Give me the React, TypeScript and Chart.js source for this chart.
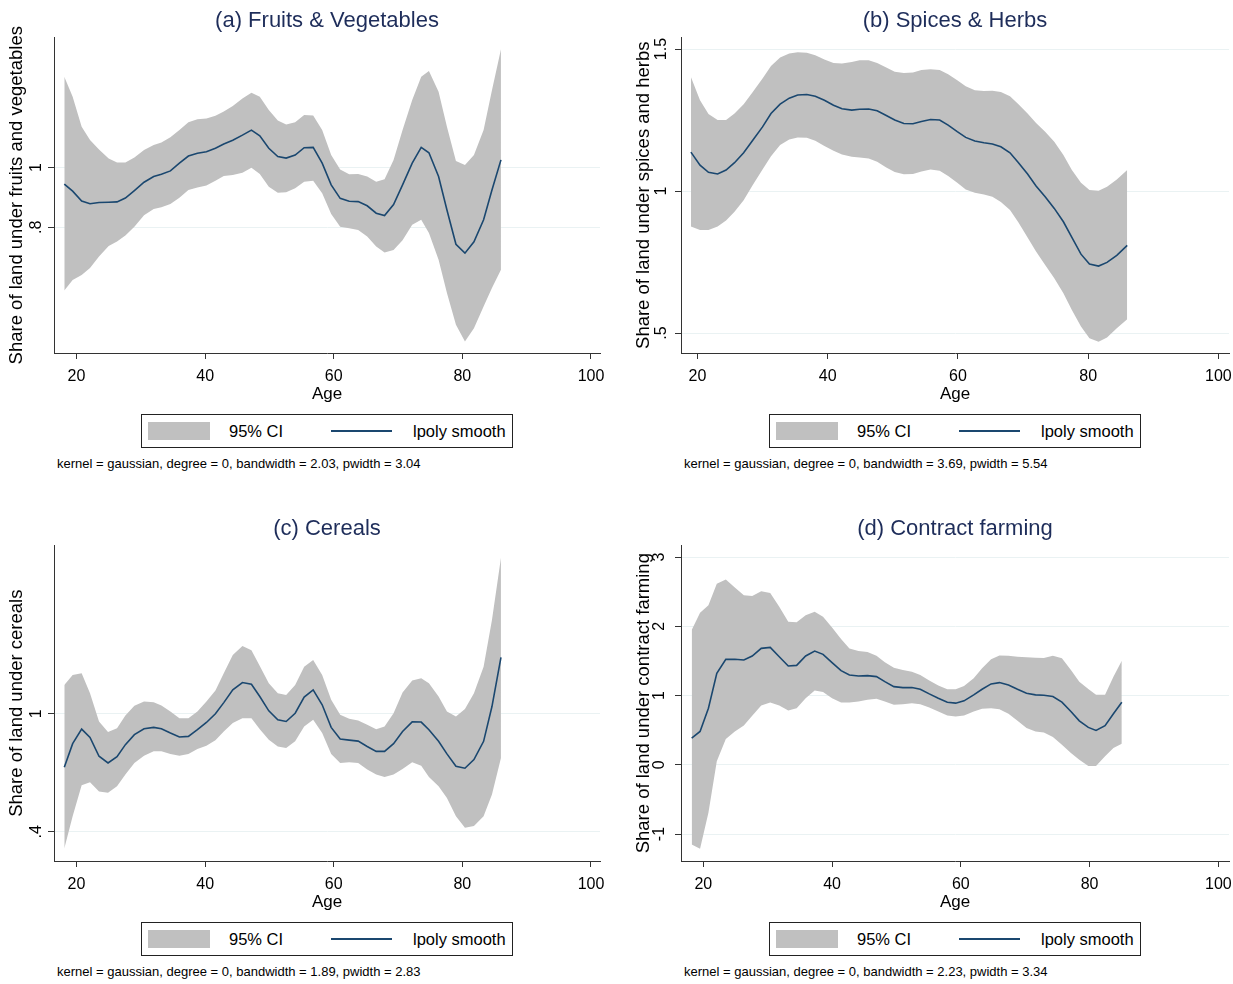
import React, { useEffect, useRef } from 'react';
import { Chart, registerables } from 'chart.js';

Chart.register(...registerables);

const FONT = '"Liberation Sans", Arial, Helvetica, sans-serif';
const NAVY = '#1a476f';
const CI_GRAY = '#c0c0c0';
const AXIS = '#333333';
const GRID = '#eaf2f3';
const TITLE_COLOR = '#1e2d5a';

// ---------------- Data ----------------
const xTicks = [20, 40, 60, 80, 100];

// (a) Fruits & Vegetables
const agesA = [18.1, 19.4, 20.8, 22.1, 23.5, 25.0, 26.3, 27.6, 29.0, 30.5, 32.0, 33.2, 34.6, 36.0, 37.4, 38.8, 40.2, 41.6, 42.9, 44.3, 45.8, 47.2, 48.5, 49.9, 51.3, 52.6, 54.0, 55.4, 56.8, 58.2, 59.6, 61.0, 62.4, 63.8, 65.2, 66.6, 67.9, 69.3, 70.7, 72.2, 73.6, 74.8, 76.3, 77.6, 79.0, 80.4, 81.8, 83.3, 84.6, 86.0];
const smoothA = [0.945, 0.921, 0.888, 0.879, 0.883, 0.884, 0.885, 0.898, 0.923, 0.951, 0.970, 0.978, 0.989, 1.015, 1.039, 1.048, 1.053, 1.065, 1.079, 1.092, 1.109, 1.126, 1.107, 1.065, 1.037, 1.032, 1.042, 1.067, 1.068, 1.015, 0.942, 0.897, 0.887, 0.886, 0.872, 0.847, 0.839, 0.876, 0.942, 1.015, 1.068, 1.050, 0.970, 0.858, 0.743, 0.713, 0.751, 0.825, 0.925, 1.026];
const upperA = [1.305, 1.238, 1.137, 1.093, 1.061, 1.031, 1.017, 1.017, 1.034, 1.059, 1.076, 1.084, 1.102, 1.126, 1.152, 1.162, 1.165, 1.174, 1.188, 1.207, 1.232, 1.251, 1.238, 1.193, 1.158, 1.145, 1.152, 1.177, 1.175, 1.126, 1.042, 0.994, 0.978, 0.979, 0.970, 0.953, 0.961, 1.026, 1.126, 1.227, 1.305, 1.324, 1.255, 1.137, 1.022, 1.009, 1.042, 1.126, 1.260, 1.397];
const lowerA = [0.588, 0.623, 0.640, 0.663, 0.702, 0.737, 0.752, 0.772, 0.802, 0.840, 0.861, 0.867, 0.878, 0.899, 0.925, 0.933, 0.940, 0.956, 0.972, 0.975, 0.983, 1.000, 0.979, 0.936, 0.916, 0.917, 0.931, 0.953, 0.956, 0.914, 0.844, 0.802, 0.797, 0.791, 0.769, 0.735, 0.715, 0.724, 0.756, 0.808, 0.825, 0.781, 0.691, 0.579, 0.473, 0.417, 0.461, 0.534, 0.596, 0.657];
const yTicksA = [0.8, 1];

// (b) Spices & Herbs
const agesB = [19.0, 20.4, 21.7, 23.1, 24.4, 25.7, 27.1, 28.5, 30.0, 31.3, 32.7, 34.1, 35.4, 36.8, 38.1, 39.5, 40.9, 42.2, 43.7, 44.9, 46.3, 47.6, 49.0, 50.3, 51.7, 53.1, 54.4, 55.8, 57.2, 58.5, 59.9, 61.2, 62.6, 64.0, 65.3, 66.6, 68.0, 69.3, 70.7, 72.0, 73.4, 74.8, 76.2, 77.5, 78.9, 80.2, 81.6, 82.9, 84.4, 86.0];
const smoothB = [1.137, 1.091, 1.066, 1.060, 1.074, 1.100, 1.135, 1.179, 1.226, 1.273, 1.306, 1.327, 1.338, 1.340, 1.334, 1.320, 1.302, 1.290, 1.285, 1.288, 1.289, 1.283, 1.266, 1.250, 1.238, 1.237, 1.245, 1.252, 1.250, 1.232, 1.209, 1.189, 1.176, 1.170, 1.166, 1.156, 1.135, 1.100, 1.060, 1.018, 0.980, 0.939, 0.892, 0.837, 0.778, 0.743, 0.736, 0.749, 0.774, 0.809];
const upperB = [1.402, 1.320, 1.271, 1.250, 1.250, 1.273, 1.306, 1.349, 1.396, 1.440, 1.470, 1.484, 1.489, 1.487, 1.478, 1.463, 1.451, 1.449, 1.454, 1.461, 1.461, 1.451, 1.435, 1.420, 1.416, 1.417, 1.426, 1.429, 1.426, 1.411, 1.390, 1.369, 1.355, 1.352, 1.353, 1.349, 1.334, 1.306, 1.273, 1.240, 1.209, 1.174, 1.127, 1.074, 1.029, 1.004, 1.001, 1.015, 1.041, 1.074];
const lowerB = [0.875, 0.863, 0.863, 0.875, 0.896, 0.927, 0.968, 1.021, 1.076, 1.123, 1.162, 1.182, 1.189, 1.188, 1.177, 1.159, 1.142, 1.129, 1.121, 1.118, 1.115, 1.103, 1.083, 1.067, 1.059, 1.060, 1.069, 1.076, 1.072, 1.053, 1.029, 1.006, 0.994, 0.988, 0.980, 0.962, 0.933, 0.889, 0.837, 0.787, 0.740, 0.693, 0.640, 0.581, 0.523, 0.482, 0.470, 0.485, 0.517, 0.549];
const yTicksB = [0.5, 1, 1.5];

// (c) Cereals
const agesC = [18.1, 19.4, 20.8, 22.1, 23.5, 24.9, 26.3, 27.6, 29.0, 30.5, 32.0, 33.2, 34.6, 36.0, 37.4, 38.8, 40.2, 41.6, 42.9, 44.3, 45.8, 47.2, 48.5, 49.9, 51.3, 52.6, 54.0, 55.4, 56.8, 58.2, 59.6, 61.0, 62.4, 63.8, 65.2, 66.6, 67.9, 69.3, 70.7, 72.2, 73.6, 74.8, 76.3, 77.6, 79.0, 80.4, 81.8, 83.3, 84.6, 86.0];
const smoothC = [0.728, 0.848, 0.922, 0.880, 0.784, 0.750, 0.782, 0.843, 0.894, 0.924, 0.931, 0.924, 0.902, 0.882, 0.885, 0.919, 0.956, 1.000, 1.057, 1.122, 1.159, 1.150, 1.088, 1.015, 0.970, 0.961, 1.003, 1.085, 1.122, 1.046, 0.931, 0.872, 0.866, 0.861, 0.834, 0.809, 0.809, 0.848, 0.910, 0.959, 0.958, 0.919, 0.860, 0.796, 0.733, 0.723, 0.767, 0.860, 1.037, 1.287];
const upperC = [1.147, 1.198, 1.206, 1.105, 0.961, 0.907, 0.927, 0.992, 1.041, 1.063, 1.059, 1.042, 1.012, 0.978, 0.978, 1.012, 1.063, 1.118, 1.206, 1.299, 1.345, 1.324, 1.243, 1.155, 1.105, 1.096, 1.147, 1.240, 1.274, 1.198, 1.071, 0.995, 0.975, 0.966, 0.944, 0.922, 0.936, 1.003, 1.108, 1.169, 1.181, 1.155, 1.088, 1.012, 0.986, 1.024, 1.105, 1.240, 1.477, 1.794];
const lowerC = [0.314, 0.479, 0.637, 0.652, 0.605, 0.598, 0.632, 0.691, 0.750, 0.787, 0.809, 0.809, 0.796, 0.787, 0.796, 0.821, 0.838, 0.865, 0.910, 0.953, 0.978, 0.978, 0.922, 0.868, 0.834, 0.826, 0.860, 0.936, 0.970, 0.902, 0.796, 0.750, 0.753, 0.750, 0.716, 0.691, 0.679, 0.691, 0.719, 0.753, 0.736, 0.679, 0.632, 0.572, 0.479, 0.420, 0.429, 0.479, 0.589, 0.775];
const yTicksC = [0.4, 1];

// (d) Contract farming
const agesD = [18.2, 19.5, 20.8, 22.1, 23.5, 24.9, 26.3, 27.6, 29.0, 30.4, 31.8, 33.2, 34.5, 35.9, 37.3, 38.6, 40.0, 41.4, 42.7, 44.1, 45.5, 46.9, 48.2, 49.6, 51.0, 52.4, 53.7, 55.1, 56.5, 57.9, 59.2, 60.5, 62.0, 63.3, 64.7, 66.0, 67.4, 68.8, 70.2, 71.6, 72.9, 74.3, 75.7, 77.1, 78.4, 79.8, 81.0, 82.4, 83.7, 85.0];
const smoothD = [0.386, 0.482, 0.818, 1.321, 1.523, 1.523, 1.513, 1.571, 1.681, 1.695, 1.561, 1.427, 1.436, 1.571, 1.643, 1.595, 1.475, 1.360, 1.297, 1.283, 1.288, 1.273, 1.201, 1.129, 1.115, 1.115, 1.091, 1.024, 0.962, 0.904, 0.890, 0.923, 1.010, 1.091, 1.168, 1.187, 1.153, 1.091, 1.034, 1.010, 1.005, 0.986, 0.904, 0.770, 0.635, 0.540, 0.496, 0.564, 0.736, 0.904];
const upperD = [1.945, 2.194, 2.305, 2.616, 2.674, 2.559, 2.448, 2.439, 2.506, 2.482, 2.281, 2.065, 2.060, 2.161, 2.209, 2.137, 1.983, 1.815, 1.681, 1.643, 1.628, 1.576, 1.480, 1.403, 1.369, 1.345, 1.297, 1.216, 1.144, 1.091, 1.091, 1.139, 1.249, 1.393, 1.523, 1.580, 1.576, 1.561, 1.552, 1.547, 1.542, 1.576, 1.537, 1.369, 1.201, 1.096, 1.010, 1.010, 1.273, 1.504];
const lowerD = [-1.149, -1.211, -0.693, 0.050, 0.372, 0.482, 0.568, 0.707, 0.856, 0.899, 0.856, 0.784, 0.818, 0.962, 1.072, 1.053, 0.962, 0.899, 0.899, 0.914, 0.938, 0.952, 0.914, 0.866, 0.875, 0.890, 0.875, 0.827, 0.770, 0.712, 0.698, 0.712, 0.770, 0.808, 0.818, 0.803, 0.736, 0.635, 0.530, 0.482, 0.468, 0.400, 0.290, 0.170, 0.074, -0.019, -0.019, 0.125, 0.242, 0.305];
const yTicksD = [-1, 0, 1, 2, 3];

// ---------------- Panel ----------------
type PanelProps = {
  left: number;
  top: number;
  padRight: number;
  title: string;
  yTitle: string;
  ages: number[];
  smooth: number[];
  upper: number[];
  lower: number[];
  xMin: number;
  xMax: number;
  yMin: number;
  yMax: number;
  yTicks: number[];
  yTickPad: number;
  note: string;
};

const CANVAS_W = 606;
const CANVAS_H = 406;

function fmt(v: number): string {
  const s = String(Math.round(v * 100) / 100);
  return s.replace(/^0\./, '.').replace(/^-0\./, '-.');
}

function Panel(p: PanelProps) {
  const ref = useRef<HTMLCanvasElement | null>(null);

  useEffect(() => {
    if (!ref.current) return;
    const pts = (ys: number[]) => p.ages.map((x, i) => ({ x, y: ys[i] }));
    const chart = new Chart(ref.current, {
      type: 'line',
      data: {
        datasets: [
          {
            label: 'lpoly smooth',
            data: pts(p.smooth),
            borderColor: NAVY,
            borderWidth: 1.6,
            pointRadius: 0,
            fill: false,
            tension: 0,
          },
          {
            label: '95% CI',
            data: pts(p.upper),
            borderColor: 'rgba(0,0,0,0)',
            borderWidth: 0,
            backgroundColor: CI_GRAY,
            pointRadius: 0,
            fill: '+1',
            tension: 0,
          },
          {
            label: 'lower',
            data: pts(p.lower),
            borderColor: 'rgba(0,0,0,0)',
            borderWidth: 0,
            pointRadius: 0,
            fill: false,
            tension: 0,
          },
        ],
      },
      options: {
        animation: false,
        responsive: false,
        maintainAspectRatio: false,
        devicePixelRatio: 1,
        events: [],
        layout: { padding: { left: 0, right: p.padRight, top: 0, bottom: 0 }, autoPadding: false },
        plugins: {
          legend: { display: false },
          tooltip: { enabled: false },
          title: {
            display: true,
            text: p.title,
            color: TITLE_COLOR,
            font: { family: FONT, size: 22, weight: 'normal' },
            padding: { top: 8, bottom: 3 },
            fullSize: false,
          },
        },
        scales: {
          x: {
            type: 'linear',
            min: p.xMin,
            max: p.xMax,
            afterBuildTicks: (s: any) => {
              s.ticks = xTicks.map((v) => ({ value: v }));
            },
            afterFit: (s: any) => {
              s.height = 53;
              s.paddingLeft = 0;
              s.paddingRight = 0;
            },
            border: { display: true, color: AXIS, width: 1 },
            grid: { drawOnChartArea: false, drawTicks: true, tickLength: 6, tickColor: AXIS },
            ticks: {
              color: '#000',
              font: { family: FONT, size: 16 },
              padding: 8,
              maxRotation: 0,
              minRotation: 0,
            },
            title: {
              display: true,
              text: 'Age',
              color: '#000',
              font: { family: FONT, size: 17 },
              padding: { top: 0, bottom: 1 },
            },
          },
          y: {
            type: 'linear',
            min: p.yMin,
            max: p.yMax,
            afterBuildTicks: (s: any) => {
              s.ticks = p.yTicks.map((v) => ({ value: v }));
            },
            afterFit: (s: any) => {
              s.width = 54;
              s.paddingTop = 0;
              s.paddingBottom = 0;
            },
            border: { display: true, color: AXIS, width: 1 },
            grid: { color: GRID, lineWidth: 1, drawTicks: true, tickLength: 6, tickColor: AXIS },
            ticks: {
              color: '#000',
              font: { family: FONT, size: 16 },
              padding: p.yTickPad,
              minRotation: 90,
              maxRotation: 90,
              crossAlign: 'center',
              callback: (v: any) => fmt(Number(v)),
            },
            title: {
              display: true,
              text: p.yTitle,
              color: '#000',
              font: { family: FONT, size: 18.5 },
              padding: { top: 5.5, bottom: 0 },
            },
          },
        },
      } as any,
    });
    return () => chart.destroy();
  }, []);

  const plotLeft = 54;
  const plotRight = CANVAS_W - p.padRight;
  const cx = (plotLeft + plotRight) / 2;
  const boxW = 372;
  const textStyle: React.CSSProperties = {
    position: 'absolute',
    top: 0,
    lineHeight: '32px',
    fontFamily: FONT,
    fontSize: 16.5,
    color: '#000',
    whiteSpace: 'nowrap',
  };

  return (
    <div style={{ position: 'absolute', left: p.left, top: p.top, width: CANVAS_W, height: 490 }}>
      <canvas ref={ref} width={CANVAS_W} height={CANVAS_H} style={{ position: 'absolute', left: 0, top: 0, width: CANVAS_W, height: CANVAS_H }} />
      <div
        style={{
          position: 'absolute',
          left: cx - boxW / 2,
          top: 414,
          width: boxW,
          height: 34,
          border: '1px solid #222',
          boxSizing: 'border-box',
          background: '#fff',
        }}
      >
        <div style={{ position: 'absolute', left: 6, top: 7, width: 62, height: 18, background: CI_GRAY }} />
        <div style={{ ...textStyle, left: 87 }}>95% CI</div>
        <div style={{ position: 'absolute', left: 189, top: 15, width: 61, height: 2, background: NAVY }} />
        <div style={{ ...textStyle, left: 271 }}>lpoly smooth</div>
      </div>
      <div
        style={{
          position: 'absolute',
          left: 57,
          top: 456,
          lineHeight: '16px',
          fontFamily: FONT,
          fontSize: 13,
          color: '#000',
          whiteSpace: 'nowrap',
        }}
      >
        {p.note}
      </div>
    </div>
  );
}

export default function App() {
  return (
    <div style={{ position: 'absolute', left: 0, top: 0, width: 1233, height: 984, background: '#fff', overflow: 'hidden' }}>
      <Panel
        left={0}
        top={0}
        padRight={6}
        title="(a) Fruits & Vegetables"
        yTitle="Share of land under fruits and vegetables"
        ages={agesA}
        smooth={smoothA}
        upper={upperA}
        lower={lowerA}
        xMin={16.5}
        xMax={101.4}
        yMin={0.378}
        yMax={1.437}
        yTicks={yTicksA}
        yTickPad={5}
        note="kernel = gaussian, degree = 0, bandwidth = 2.03, pwidth = 3.04"
      />
      <Panel
        left={627}
        top={0}
        padRight={4}
        title="(b) Spices & Herbs"
        yTitle="Share of land under spices and herbs"
        ages={agesB}
        smooth={smoothB}
        upper={upperB}
        lower={lowerB}
        xMin={17.48}
        xMax={101.63}
        yMin={0.43}
        yMax={1.541}
        yTicks={yTicksB}
        yTickPad={2}
        note="kernel = gaussian, degree = 0, bandwidth = 3.69, pwidth = 5.54"
      />
      <Panel
        left={0}
        top={508}
        padRight={6}
        title="(c) Cereals"
        yTitle="Share of land under cereals"
        ages={agesC}
        smooth={smoothC}
        upper={upperC}
        lower={lowerC}
        xMin={16.5}
        xMax={101.4}
        yMin={0.251}
        yMax={1.857}
        yTicks={yTicksC}
        yTickPad={5}
        note="kernel = gaussian, degree = 0, bandwidth = 1.89, pwidth = 2.83"
      />
      <Panel
        left={627}
        top={508}
        padRight={4}
        title="(d) Contract farming"
        yTitle="Share of land under contract farming"
        ages={agesD}
        smooth={smoothD}
        upper={upperD}
        lower={lowerD}
        xMin={16.54}
        xMax={101.65}
        yMin={-1.389}
        yMax={3.168}
        yTicks={yTicksD}
        yTickPad={8}
        note="kernel = gaussian, degree = 0, bandwidth = 2.23, pwidth = 3.34"
      />
    </div>
  );
}
